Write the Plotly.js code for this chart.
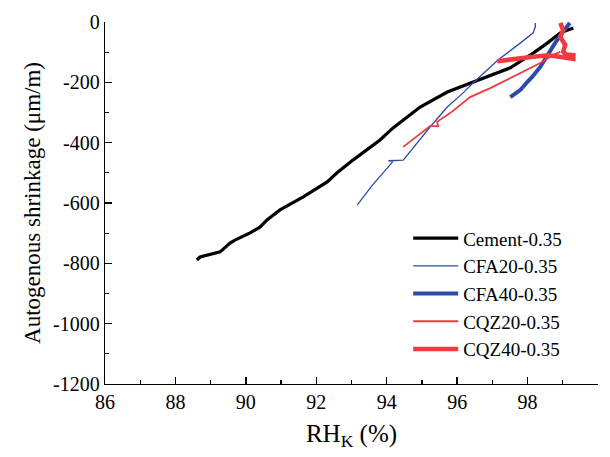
<!DOCTYPE html>
<html>
<head>
<meta charset="utf-8">
<script src="https://cdn.plot.ly/plotly-3.0.1.min.js"></script>
<style>html,body{margin:0;padding:0;background:#fff;}#chart{width:610px;height:457px;}</style>
</head>
<body>
<div id="chart"></div>
<script>
// Cement-0.35
const cementX = [88.61, 88.70, 89.27, 89.55, 89.69, 90.12, 90.40, 90.60, 90.97, 91.45, 91.63, 92.31, 92.59, 93.05, 93.61, 93.81, 94.18, 94.47, 94.95, 95.72, 96.37, 96.94, 97.51, 98.16, 98.56, 98.93, 99.30];
const cementY = [-789, -779, -762, -733, -723, -699, -680, -656, -623, -590, -580, -530, -500, -457, -408, -391, -351, -325, -282, -232, -202, -176, -152, -103, -70, -36, -20];
// CFA20-0.35
const cfa20X = [93.16, 93.60, 94.18, 94.05, 94.47, 94.80, 95.23, 95.72, 96.17, 96.45, 97.16, 97.79, 98.16, 98.22, 98.22];
const cfa20Y = [-607, -540, -462, -460, -458, -410, -348, -282, -235, -202, -126, -70, -36, -15, -3];
// CFA40-0.35
const cfa40X = [97.51, 97.80, 97.99, 98.13, 98.36, 98.59, 98.78, 98.98, 99.15, 99.20];
const cfa40Y = [-249, -225, -199, -182, -149, -103, -70, -36, -10, -3];
// CQZ20-0.35
const cqz20X = [94.47, 94.81, 95.18, 95.23, 95.46, 95.43, 95.80, 96.37, 96.94, 97.79, 98.36, 98.73, 98.93];
const cqz20Y = [-414, -384, -351, -345, -345, -331, -302, -249, -219, -169, -136, -109, -99];
// CQZ40-0.35
const cqz40X = [98.93, 99.01, 98.93, 99.07, 99.01, 99.10, 99.30, 99.30, 99.05, 98.60, 98.10, 97.60, 97.14];
const cqz40Y = [-3, -27, -50, -76, -99, -108, -110, -122, -118, -110, -116, -122, -130];

// Tick labels
const yTickVals = [0, -200, -400, -600, -800, -1000, -1200];
const yTickText = ['0', '-200', '-400', '-600', '-800', '-1000', '-1200'];
const xTickVals = [86, 88, 90, 92, 94, 96, 98, 100];
const xTickText = ['86', '88', '90', '92', '94', '96', '98', '100'];

const blue = '#2B4BA6';
const red = '#F03A3E';

const traces = [
  {x: cementX, y: cementY, name: 'Cement-0.35', mode: 'lines', line: {color: '#000000', width: 3.2}},
  {x: cfa20X, y: cfa20Y, name: 'CFA20-0.35', mode: 'lines', line: {color: blue, width: 1.3}},
  {x: cfa40X, y: cfa40Y, name: 'CFA40-0.35', mode: 'lines', line: {color: blue, width: 4}},
  {x: cqz20X, y: cqz20Y, name: 'CQZ20-0.35', mode: 'lines', line: {color: red, width: 1.8}},
  {x: cqz40X, y: cqz40Y, name: 'CQZ40-0.35', mode: 'lines', line: {color: red, width: 4.5}}
];

const serif = 'Liberation Serif';

const layout = {
  width: 610, height: 457,
  margin: {l: 105, r: 12, t: 22, b: 73},
  paper_bgcolor: '#fff', plot_bgcolor: '#fff',
  font: {family: serif, size: 20, color: '#000'},
  showlegend: true,
  legend: {
    x: 0.615, y: 0.455, xanchor: 'left', yanchor: 'top',
    bgcolor: 'rgba(0,0,0,0)', borderwidth: 0,
    font: {family: serif, size: 19, color: '#000'},
    tracegroupgap: 0, itemwidth: 45
  },
  xaxis: {
    range: [86, 100], tickvals: xTickVals, ticktext: xTickText,
    showgrid: false, zeroline: false,
    showline: true, linecolor: '#000', linewidth: 1.3,
    ticks: 'inside', ticklen: 7, tickwidth: 1.3, tickcolor: '#000',
    minor: {dtick: 1, tick0: 86, ticks: 'inside', ticklen: 4, tickwidth: 1.3, tickcolor: '#000'},
    tickfont: {family: serif, size: 20, color: '#000'},
    title: {text: 'RH<sub>K</sub> (%)', font: {family: serif, size: 25, color: '#000'}, standoff: 12}
  },
  yaxis: {
    range: [-1200, 0], tickvals: yTickVals, ticktext: yTickText,
    showgrid: false, zeroline: false,
    showline: true, linecolor: '#000', linewidth: 1.3,
    ticks: 'inside', ticklen: 7, tickwidth: 1.3, tickcolor: '#000',
    minor: {dtick: 100, tick0: 0, ticks: 'inside', ticklen: 4, tickwidth: 1.3, tickcolor: '#000'},
    tickfont: {family: serif, size: 20, color: '#000'},
    title: {text: 'Autogenous shrinkage (μm/m)', font: {family: serif, size: 23, color: '#000'}, standoff: 6}
  }
};

Plotly.newPlot('chart', traces, layout, {displayModeBar: false, staticPlot: true});
</script>
</body>
</html>
